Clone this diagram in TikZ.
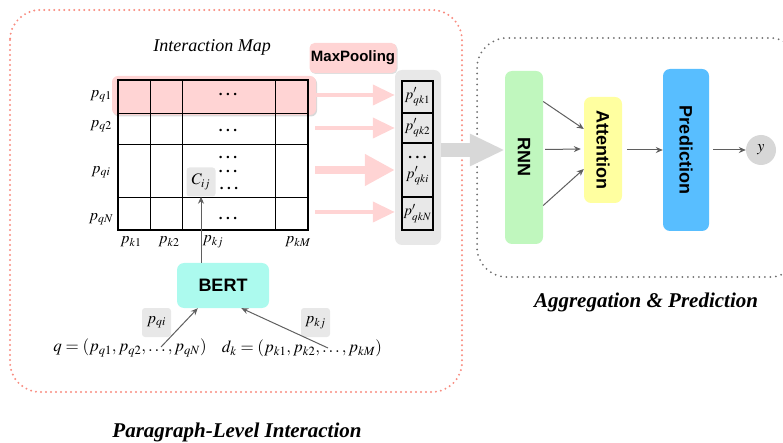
\documentclass[tikz,border=0pt]{standalone}
\usepackage{mathptmx}
\usepackage{fontspec}
\setmainfont{Liberation Serif}
\setsansfont{Liberation Sans}
\usetikzlibrary{arrows.meta,shadows}
\definecolor{pinkfill}{RGB}{255,212,212}
\definecolor{pinkdot}{RGB}{248,140,128}
\definecolor{greydot}{RGB}{110,110,110}
\definecolor{boxgrey}{RGB}{232,232,232}
\definecolor{bigarrow}{RGB}{216,216,216}
\definecolor{bertcyan}{RGB}{172,250,238}
\definecolor{rnngreen}{RGB}{192,247,190}
\definecolor{attyellow}{RGB}{255,255,160}
\definecolor{predblue}{RGB}{88,190,255}
\definecolor{circgrey}{RGB}{215,215,215}
\definecolor{conngrey}{RGB}{95,95,95}
\newcommand{\rowdots}{.\kern3.5pt.\kern3.5pt.}

\begin{document}
\begin{tikzpicture}[x=1pt, y=-1pt,
	block/.style = {rounded corners=7pt, inner sep=0pt, font=\sffamily\bfseries\fontsize{18}{18}\selectfont},
	tag/.style = {rounded corners=3pt, fill=boxgrey, inner sep=0pt, minimum width=29pt, minimum height=29pt, font=\fontsize{16}{16}\selectfont},
	lbl/.style = {inner sep=0pt, font=\fontsize{16}{16}\selectfont},
	dots/.style = {inner sep=0pt, font=\bfseries\fontsize{15}{15}\selectfont},
	cell/.style = {draw, line width=1.2pt, fill=boxgrey, minimum width=31pt, inner sep=0pt, font=\fontsize{15}{15}\selectfont},
	conn/.style = {conngrey, line width=1pt, -{Stealth[length=7pt,width=6pt]}},
	pinkarrow/.style = {pinkfill, line width=4pt, -{Triangle[length=22pt,width=20pt]}},
	title/.style = {font=\bfseries\itshape\fontsize{21}{21}\selectfont}]
	\useasboundingbox (0,0) rectangle (783,443);
	\draw[pinkdot, line width=2.2pt, line cap=round, dash pattern=on 0pt off 5pt, rounded corners=30pt] (10,10) rectangle (462,392);
	\draw[greydot, line width=2pt, line cap=round, dash pattern=on 0pt off 5.5pt, rounded corners=30pt] (477,38) rectangle (800,277);
	\node (map) at (212,47) [font=\itshape\fontsize{18}{18}\selectfont] {Interaction Map};
	\node (maxpool) at (353,58) [block, fill=pinkfill, minimum width=87pt, minimum height=30pt, rounded corners=5pt, drop shadow={shadow xshift=1pt, shadow yshift=-1pt, opacity=0.25}, font=\sffamily\bfseries\fontsize{15}{15}\selectfont] {MaxPooling};
	\node (row1) at (214,95.5) [fill=pinkfill, rounded corners=6pt, minimum width=204pt, minimum height=39pt, drop shadow={shadow xshift=1pt, shadow yshift=-1.5pt, opacity=0.3}] {};
	\draw[line width=0.9pt] (118,113) -- (308,113) (118,144) -- (308,144) (118,197) -- (308,197);
	\draw[line width=0.9pt] (150,80) -- (150,230) (182,80) -- (182,230) (275,80) -- (275,230);
	\draw[line width=1.4pt] (118,80) rectangle (308,230);
	\node (d1) at (228,94) [dots] {\rowdots};
	\node (d2) at (228,130) [dots] {\rowdots};
	\node (d3) at (228,157) [dots] {\rowdots};
	\node (d4) at (228,171) [dots] {\rowdots};
	\node (d5) at (229,188) [dots] {\rowdots};
	\node (d6) at (228,218) [dots] {\rowdots};
	\node (cij) at (201,182) [tag] {$C_{ij}$};
	\node (q1) at (101,96) [lbl] {$p_{q1}$};
	\node (q2) at (101,126) [lbl] {$p_{q2}$};
	\node (qi) at (101,172) [lbl] {$p_{qi}$};
	\node (qN) at (101,219) [lbl] {$p_{qN}$};
	\node (k1) at (131,242) [lbl] {$p_{k1}$};
	\node (k2) at (169,242) [lbl] {$p_{k2}$};
	\node (kj) at (213,242) [lbl] {$p_{kj}$};
	\node (kM) at (298,242) [lbl] {$p_{kM}$};
	\node (pool) at (418,157.5) [fill=boxgrey, rounded corners=7pt, minimum width=46pt, minimum height=175pt] {};
	\node (o1) at (417.5,97) [cell, minimum height=32pt] {$p'_{qk1}$};
	\node (o2) at (417.5,128) [cell, minimum height=30pt] {$p'_{qk2}$};
	\node (oi) at (417.5,170) [cell, minimum height=54pt] {};
	\node (oN) at (417.5,213.5) [cell, minimum height=33pt] {$p'_{qkN}$};
	\node (oidots) at (417.5,157) [dots] {\rowdots};
	\node (oilbl) at (417.5,176) [inner sep=0pt, font=\fontsize{15}{15}\selectfont] {$p'_{qki}$};
	\coordinate (r1) at (315,95);
	\coordinate (r2) at (315,128);
	\coordinate (ri) at (315,170);
	\coordinate (rN) at (315,212);
	\draw[pinkarrow] (r1) -- (r1 -| pool.west);
	\draw[pinkarrow] (r2) -- (r2 -| pool.west);
	\draw[pinkarrow, line width=8pt, -{Triangle[length=30pt,width=30pt]}] (ri) -- (ri -| pool.west);
	\draw[pinkarrow] (rN) -- (rN -| pool.west);
	\node (bert) at (223,285.5) [block, fill=bertcyan, minimum width=92pt, minimum height=45pt] {BERT};
	\node (qeq) at (130,348) [inner sep=0pt, font=\fontsize{17}{17}\selectfont] {$q=(p_{q1},p_{q2},\ldots,p_{qN})$};
	\node (deq) at (302,348) [inner sep=0pt, font=\fontsize{17}{17}\selectfont] {$d_k=(p_{k1},p_{k2},\ldots,p_{kM})$};
	\node (tqi) at (156.5,322.5) [tag] {$p_{qi}$};
	\node (tkj) at (315.5,322.5) [tag] {$p_{kj}$};
	\coordinate (qa) at (161,347);
	\coordinate (ka) at (328,348);
	\draw[conn] (qa) -- (bert.222);
	\draw[conn] (ka) -- (bert.-51);
	\draw[conn] (bert.north -| cij) -- (cij);
	\node (rnn) at (524,157.5) [block, fill=rnngreen, rotate=-90, minimum width=173pt, minimum height=38pt] {RNN};
	\node (att) at (603,150) [block, fill=attyellow, rotate=-90, minimum width=106pt, minimum height=38pt] {Attention};
	\node (pred) at (686,150) [block, fill=predblue, rotate=-90, minimum width=162pt, minimum height=46pt] {Prediction};
	\node (y) at (761,150) [circle, fill=circgrey, minimum size=30pt, inner sep=0pt, font=\fontsize{16}{16}\selectfont] {$y$};
	\draw[bigarrow, line width=14pt, -{Triangle[length=35pt,width=30pt]}] (pool.east |- 0,150) -- (rnn.south |- 0,150);
	\draw[conn] ([yshift=56pt]rnn.north) -- ([yshift=21pt]att.south);
	\draw[conn] ([yshift=8pt, xshift=2pt]rnn.north) -- ([xshift=-3pt, yshift=1pt]att.south);
	\draw[conn] ([yshift=-48pt]rnn.north) -- ([yshift=-19pt]att.south);
	\draw[conn] ([xshift=5pt]att.north) -- (pred.south);
	\draw[conn] ([xshift=4pt]pred.north) -- (y);
	\node (aggtitle) at (646,302) [title] {Aggregation \& Prediction};
	\node (paratitle) at (237,432) [title] {Paragraph-Level Interaction};
\end{tikzpicture}
\end{document}
